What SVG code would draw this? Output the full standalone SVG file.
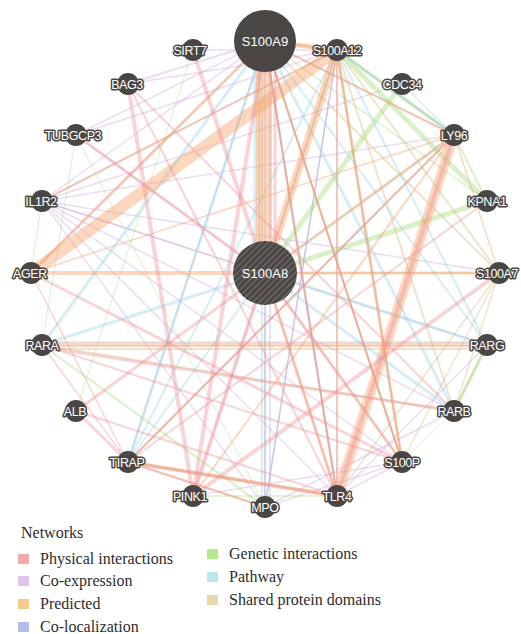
<svg xmlns="http://www.w3.org/2000/svg" width="521" height="634" viewBox="0 0 521 634">
<defs>
<pattern id="hatch" patternUnits="userSpaceOnUse" width="4.5" height="4.5" patternTransform="rotate(45)">
<rect width="4.5" height="4.5" fill="#4a4644"/>
<line x1="1" y1="0" x2="1" y2="4.5" stroke="#7d7876" stroke-width="1"/>
</pattern>
<style>
line{stroke-linecap:butt;fill:none}
.pi{stroke:#ef9297;stroke-opacity:.4}
.ce{stroke:#cfa6de;stroke-opacity:.4}
.pr{stroke:#f5a066;stroke-opacity:.42}
.cl{stroke:#96a6e0;stroke-opacity:.4}
.gi{stroke:#a4dc7c;stroke-opacity:.42}
.pw{stroke:#9ad6e6;stroke-opacity:.42}
.sd{stroke:#d3c284;stroke-opacity:.42}
.node circle{fill:#4a4644}
.node text{font-family:"Liberation Sans",Arial,sans-serif;font-size:12.5px;fill:#fff;stroke:#4a4644;stroke-width:3px;paint-order:stroke;stroke-linejoin:round;text-anchor:middle;letter-spacing:-0.4px}
.big text{font-size:13px;stroke:none;letter-spacing:0}
.leg{font-family:"Liberation Serif","Times New Roman",serif;font-size:16px;fill:#2d2d2d}
</style>
</defs>
<rect width="521" height="634" fill="#fff"/>
<g id="connectors">
<g class="ce" stroke-width="1.5">
<line x1="42" y1="201" x2="265" y2="41"/>
<line x1="42" y1="201" x2="337" y2="50"/>
<line x1="42" y1="201" x2="265" y2="273"/>
<line x1="42" y1="201" x2="499" y2="273"/>
<line x1="42" y1="201" x2="487" y2="345"/>
<line x1="42" y1="201" x2="402" y2="462"/>
<line x1="42" y1="201" x2="337" y2="496"/>
<line x1="42" y1="201" x2="265" y2="507"/>
<line x1="42" y1="201" x2="402" y2="84"/>
<line x1="42" y1="201" x2="454" y2="135"/>
<line x1="42" y1="201" x2="454" y2="411"/>
<line x1="76" y1="135" x2="265" y2="41"/>
<line x1="76" y1="135" x2="337" y2="50"/>
<line x1="76" y1="135" x2="265" y2="273"/>
<line x1="128" y1="84" x2="265" y2="41" stroke-width="2"/>
<line x1="128" y1="84" x2="337" y2="50"/>
<line x1="193" y1="50" x2="337" y2="50"/>
<line x1="402" y1="462" x2="337" y2="496"/>
<line x1="402" y1="462" x2="265" y2="507"/>
<line x1="402" y1="462" x2="265" y2="41"/>
<line x1="402" y1="462" x2="337" y2="50"/>
<line x1="402" y1="462" x2="193" y2="496"/>
<line x1="265" y1="507" x2="265" y2="41"/>
<line x1="265" y1="507" x2="337" y2="50"/>
<line x1="337" y1="496" x2="265" y2="41"/>
<line x1="337" y1="496" x2="337" y2="50"/>
<line x1="454" y1="135" x2="265" y2="41"/>
<line x1="454" y1="135" x2="337" y2="50"/>
<line x1="454" y1="135" x2="128" y2="462"/>
<line x1="454" y1="411" x2="265" y2="507"/>
<line x1="487" y1="345" x2="337" y2="496"/>
<line x1="193" y1="496" x2="337" y2="50"/>
<line x1="128" y1="462" x2="265" y2="41"/>
<line x1="31" y1="273" x2="265" y2="41"/>
</g>
<g class="cl" stroke-width="1.5">
<line x1="265" y1="273" x2="265" y2="507"/>
<line x1="270" y1="41" x2="270" y2="507"/>
<line x1="265" y1="41" x2="337" y2="50"/>
<line x1="337" y1="50" x2="265" y2="507"/>
</g>
<g class="sd" stroke-width="2">
<line x1="265" y1="41" x2="337" y2="50"/>
<line x1="265" y1="41" x2="499" y2="273"/>
<line x1="265" y1="41" x2="402" y2="462"/>
<line x1="265" y1="273" x2="499" y2="273"/>
<line x1="265" y1="273" x2="402" y2="462"/>
<line x1="337" y1="50" x2="499" y2="273"/>
<line x1="337" y1="50" x2="402" y2="462"/>
<line x1="337" y1="50" x2="454" y2="411"/>
<line x1="499" y1="273" x2="402" y2="462" stroke-width="1.5"/>
<line x1="499" y1="273" x2="454" y2="411" stroke-width="1.5"/>
<line x1="265" y1="273" x2="337" y2="50"/>
<line x1="42" y1="345" x2="454" y2="411"/>
<line x1="42" y1="349" x2="487" y2="349"/>
<line x1="454" y1="411" x2="487" y2="345"/>
<line x1="499" y1="273" x2="337" y2="496" stroke-width="1.5"/>
</g>
<g class="gi">
<line x1="402" y1="84" x2="265" y2="273" stroke-width="5"/>
<line x1="337" y1="50" x2="487" y2="201" stroke-width="5"/>
<line x1="487" y1="201" x2="265" y2="273" stroke-width="5"/>
<line x1="337" y1="50" x2="454" y2="135" stroke-width="4"/>
<line x1="454" y1="135" x2="487" y2="201" stroke-width="2"/>
<line x1="265" y1="41" x2="487" y2="201" stroke-width="1.5"/>
<line x1="42" y1="345" x2="265" y2="507" stroke-width="2"/>
<line x1="42" y1="342" x2="487" y2="342" stroke-width="1.5"/>
<line x1="487" y1="345" x2="454" y2="411" stroke-width="3"/>
<line x1="76" y1="135" x2="42" y2="345" stroke-width="1"/>
<line x1="42" y1="201" x2="31" y2="273" stroke-width="1"/>
<line x1="76" y1="135" x2="265" y2="507" stroke-width="1"/>
<line x1="193" y1="50" x2="76" y2="411" stroke-width="1"/>
<line x1="128" y1="462" x2="337" y2="496" stroke-width="1.5"/>
<line x1="193" y1="496" x2="337" y2="496" stroke-width="1.5"/>
<line x1="402" y1="462" x2="454" y2="411" stroke-width="1"/>
</g>
<g class="pw">
<line x1="255" y1="41" x2="255" y2="273" stroke-width="3"/>
<line x1="128" y1="462" x2="265" y2="41" stroke-width="3"/>
<line x1="42" y1="345" x2="265" y2="41" stroke-width="3"/>
<line x1="42" y1="345" x2="265" y2="273" stroke-width="3"/>
<line x1="265" y1="41" x2="454" y2="411" stroke-width="3"/>
<line x1="265" y1="41" x2="487" y2="345" stroke-width="2"/>
<line x1="265" y1="273" x2="487" y2="345" stroke-width="3"/>
<line x1="265" y1="273" x2="454" y2="411" stroke-width="3"/>
<line x1="337" y1="50" x2="454" y2="135" stroke-width="2"/>
<line x1="337" y1="496" x2="265" y2="41" stroke-width="2"/>
<line x1="262" y1="507" x2="262" y2="41" stroke-width="2"/>
<line x1="128" y1="462" x2="337" y2="50" stroke-width="2"/>
<line x1="128" y1="462" x2="265" y2="273" stroke-width="2"/>
<line x1="454" y1="135" x2="265" y2="273" stroke-width="2"/>
<line x1="337" y1="50" x2="487" y2="345" stroke-width="2"/>
<line x1="402" y1="84" x2="454" y2="135" stroke-width="1.5"/>
</g>
<g class="pr">
<line x1="265" y1="41" x2="265" y2="273" stroke-width="14"/>
<line x1="258" y1="41" x2="258" y2="273" stroke-width="4"/>
<line x1="337" y1="50" x2="31" y2="273" stroke-width="12"/>
<line x1="337" y1="50" x2="265" y2="273" stroke-width="8"/>
<line x1="454" y1="135" x2="337" y2="496" stroke-width="10"/>
<line x1="31" y1="273" x2="265" y2="273" stroke-width="4"/>
<line x1="337" y1="50" x2="265" y2="41" stroke-width="5"/>
<line x1="265" y1="41" x2="31" y2="273" stroke-width="3"/>
<line x1="454" y1="135" x2="265" y2="273" stroke-width="3"/>
<line x1="454" y1="135" x2="128" y2="462" stroke-width="2"/>
<line x1="128" y1="462" x2="337" y2="496" stroke-width="4"/>
<line x1="337" y1="50" x2="402" y2="462" stroke-width="3"/>
<line x1="265" y1="41" x2="402" y2="462" stroke-width="2"/>
<line x1="265" y1="273" x2="499" y2="273" stroke-width="3"/>
<line x1="265" y1="41" x2="337" y2="496" stroke-width="2"/>
<line x1="337" y1="50" x2="337" y2="496" stroke-width="2"/>
<line x1="42" y1="346" x2="487" y2="346" stroke-width="2"/>
<line x1="454" y1="135" x2="193" y2="496" stroke-width="2"/>
<line x1="265" y1="273" x2="337" y2="496" stroke-width="3"/>
<line x1="454" y1="135" x2="265" y2="41" stroke-width="2"/>
<line x1="337" y1="50" x2="42" y2="201" stroke-width="2"/>
<line x1="128" y1="462" x2="265" y2="507" stroke-width="2"/>
<line x1="454" y1="135" x2="31" y2="273" stroke-width="1.5"/>
<line x1="454" y1="135" x2="499" y2="273" stroke-width="1.5"/>
</g>
<g class="pi">
<line x1="454" y1="135" x2="337" y2="496" stroke-width="4"/>
<line x1="193" y1="50" x2="265" y2="273" stroke-width="4"/>
<line x1="128" y1="84" x2="193" y2="496" stroke-width="4"/>
<line x1="128" y1="84" x2="337" y2="496" stroke-width="2"/>
<line x1="128" y1="84" x2="454" y2="411" stroke-width="2"/>
<line x1="76" y1="135" x2="265" y2="273" stroke-width="3"/>
<line x1="31" y1="273" x2="402" y2="462" stroke-width="3"/>
<line x1="76" y1="411" x2="265" y2="273" stroke-width="3"/>
<line x1="76" y1="411" x2="128" y2="462" stroke-width="3"/>
<line x1="76" y1="411" x2="337" y2="496" stroke-width="2"/>
<line x1="193" y1="496" x2="499" y2="273" stroke-width="4"/>
<line x1="193" y1="496" x2="265" y2="273" stroke-width="4"/>
<line x1="193" y1="496" x2="265" y2="41" stroke-width="4"/>
<line x1="128" y1="462" x2="337" y2="496" stroke-width="3"/>
<line x1="128" y1="462" x2="265" y2="507" stroke-width="2"/>
<line x1="42" y1="344" x2="487" y2="344" stroke-width="3"/>
<line x1="42" y1="347" x2="454" y2="411" stroke-width="3"/>
<line x1="42" y1="345" x2="128" y2="462" stroke-width="1.5"/>
<line x1="42" y1="345" x2="402" y2="462" stroke-width="2"/>
<line x1="265" y1="273" x2="402" y2="462" stroke-width="3"/>
<line x1="128" y1="462" x2="454" y2="135" stroke-width="1.5"/>
<line x1="31" y1="273" x2="128" y2="462" stroke-width="1.5"/>
<line x1="265" y1="41" x2="337" y2="496" stroke-width="2"/>
<line x1="265" y1="273" x2="337" y2="496" stroke-width="2"/>
<line x1="128" y1="462" x2="487" y2="201" stroke-width="2"/>
<line x1="275" y1="41" x2="275" y2="273" stroke-width="3"/>
<line x1="265" y1="41" x2="402" y2="462" stroke-width="1.5"/>
</g>
</g>
<g id="n-S100A8" class="node big"><circle cx="265" cy="273" r="32" style="fill:url(#hatch)"/><text x="265" y="277.5">S100A8</text></g>
<g id="n-S100A9" class="node big"><circle cx="265" cy="41" r="31"/><text x="265" y="45.5">S100A9</text></g>
<g id="n-S100A12" class="node"><circle cx="337" cy="50" r="11"/><text x="337" y="54.5">S100A12</text></g>
<g id="n-CDC34" class="node"><circle cx="402" cy="84" r="11"/><text x="402" y="88.5">CDC34</text></g>
<g id="n-LY96" class="node"><circle cx="454" cy="135" r="11"/><text x="454" y="139.5">LY96</text></g>
<g id="n-KPNA1" class="node"><circle cx="487" cy="201" r="11"/><text x="487" y="205.5">KPNA1</text></g>
<g id="n-S100A7" class="node"><circle cx="499" cy="273" r="11"/><text x="497" y="277.5">S100A7</text></g>
<g id="n-RARG" class="node"><circle cx="487" cy="345" r="11"/><text x="487" y="349.5">RARG</text></g>
<g id="n-RARB" class="node"><circle cx="454" cy="411" r="11"/><text x="454" y="415.5">RARB</text></g>
<g id="n-S100P" class="node"><circle cx="402" cy="462" r="11"/><text x="402" y="466.5">S100P</text></g>
<g id="n-TLR4" class="node"><circle cx="337" cy="496" r="11"/><text x="337" y="500.5">TLR4</text></g>
<g id="n-MPO" class="node"><circle cx="265" cy="507" r="11"/><text x="265" y="511.5">MPO</text></g>
<g id="n-PINK1" class="node"><circle cx="193" cy="496" r="11"/><text x="190" y="500.5">PINK1</text></g>
<g id="n-TIRAP" class="node"><circle cx="128" cy="462" r="11"/><text x="127" y="466.5">TIRAP</text></g>
<g id="n-ALB" class="node"><circle cx="76" cy="411" r="11"/><text x="75" y="415.5">ALB</text></g>
<g id="n-RARA" class="node"><circle cx="42" cy="345" r="11"/><text x="42" y="349.5">RARA</text></g>
<g id="n-AGER" class="node"><circle cx="31" cy="273" r="11"/><text x="30" y="277.5">AGER</text></g>
<g id="n-IL1R2" class="node"><circle cx="42" cy="201" r="11"/><text x="41" y="205.5">IL1R2</text></g>
<g id="n-TUBGCP3" class="node"><circle cx="76" cy="135" r="11"/><text x="73" y="139.5">TUBGCP3</text></g>
<g id="n-BAG3" class="node"><circle cx="128" cy="84" r="11"/><text x="127" y="88.5">BAG3</text></g>
<g id="n-SIRT7" class="node"><circle cx="193" cy="50" r="11"/><text x="190" y="54.5">SIRT7</text></g>
<g id="legend">
<text class="leg" x="21" y="538">Networks</text>
<rect x="18" y="554" width="11" height="10" fill="#f4a9ab"/>
<text class="leg" x="40" y="564">Physical interactions</text>
<rect x="18" y="576" width="11" height="10" fill="#dfc3ea"/>
<text class="leg" x="40" y="586">Co-expression</text>
<rect x="18" y="599" width="11" height="10" fill="#f9c98e"/>
<text class="leg" x="40" y="609">Predicted</text>
<rect x="18" y="622" width="11" height="10" fill="#b3bde9"/>
<text class="leg" x="40" y="632">Co-localization</text>
<rect x="207" y="549" width="11" height="10" fill="#b5e98e"/>
<text class="leg" x="229" y="559">Genetic interactions</text>
<rect x="207" y="572" width="11" height="10" fill="#bde6ed"/>
<text class="leg" x="229" y="582">Pathway</text>
<rect x="207" y="595" width="11" height="10" fill="#e4d9ac"/>
<text class="leg" x="229" y="605">Shared protein domains</text>
</g>
</svg>
